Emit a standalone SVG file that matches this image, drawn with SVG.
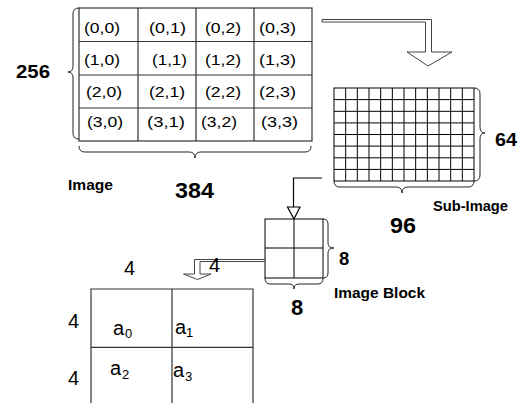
<svg xmlns="http://www.w3.org/2000/svg" width="518" height="403" viewBox="0 0 518 403">
<defs>
<style>
.grid{fill:none;stroke:#333;stroke-width:1.2}
.fine{fill:none;stroke:#000;stroke-width:1}
.brace{fill:none;stroke:#222;stroke-width:1}
.conn{fill:none;stroke:#000;stroke-width:1.2}
.block{fill:#fff;stroke:#444;stroke-width:1}
.cell{font-family:"Liberation Sans",Arial,sans-serif;font-size:15.5px;fill:#000}
.num{font-family:"Liberation Sans",Arial,sans-serif;font-weight:bold;fill:#000}
.lbl{font-family:"Liberation Sans",Arial,sans-serif;font-weight:bold;font-size:14px;fill:#000}
.reg{font-family:"Liberation Sans",Arial,sans-serif;font-size:20px;fill:#000}
.sub{font-family:"Liberation Sans",Arial,sans-serif;font-size:13px;fill:#000}
</style>
</defs>
<rect width="518" height="403" fill="#fff"/>

<g id="image">
<rect class="grid" x="79" y="8" width="233" height="133"/>
<path class="grid" d="M138,8V141M196,8V141M254,8V141M79,41.5H312M79,75H312M79,108H312"/>
<g class="cell">
<text x="84" y="33" textLength="36" lengthAdjust="spacingAndGlyphs">(0,0)</text>
<text x="149" y="33" textLength="37" lengthAdjust="spacingAndGlyphs">(0,1)</text>
<text x="205" y="33" textLength="36" lengthAdjust="spacingAndGlyphs">(0,2)</text>
<text x="259" y="33" textLength="37" lengthAdjust="spacingAndGlyphs">(0,3)</text>
<text x="84" y="65" textLength="36" lengthAdjust="spacingAndGlyphs">(1,0)</text>
<text x="152" y="65" textLength="35" lengthAdjust="spacingAndGlyphs">(1,1)</text>
<text x="205" y="65" textLength="36" lengthAdjust="spacingAndGlyphs">(1,2)</text>
<text x="259" y="65" textLength="37" lengthAdjust="spacingAndGlyphs">(1,3)</text>
<text x="86" y="97" textLength="36" lengthAdjust="spacingAndGlyphs">(2,0)</text>
<text x="149" y="97" textLength="36" lengthAdjust="spacingAndGlyphs">(2,1)</text>
<text x="205" y="97" textLength="36" lengthAdjust="spacingAndGlyphs">(2,2)</text>
<text x="259" y="97" textLength="37" lengthAdjust="spacingAndGlyphs">(2,3)</text>
<text x="87" y="127" textLength="36" lengthAdjust="spacingAndGlyphs">(3,0)</text>
<text x="147" y="127" textLength="38" lengthAdjust="spacingAndGlyphs">(3,1)</text>
<text x="201" y="127" textLength="36" lengthAdjust="spacingAndGlyphs">(3,2)</text>
<text x="261" y="127" textLength="37" lengthAdjust="spacingAndGlyphs">(3,3)</text>
</g>
<path class="brace" d="M79,8Q73,8 73,14V66Q73,72 68,72Q73,72 73,78V133Q73,139 79,139"/>
<path class="brace" d="M79,146Q79,152 85,152H189Q195,152 195,158Q195,152 201,152H305Q311,152 311,146"/>
<text class="num" x="16" y="78" font-size="19" textLength="34" lengthAdjust="spacingAndGlyphs">256</text>
<text class="num" x="175" y="198" font-size="22" textLength="39" lengthAdjust="spacingAndGlyphs">384</text>
<text class="lbl" x="68" y="190" textLength="45" lengthAdjust="spacingAndGlyphs">Image</text>
</g>

<g id="sub-image">
<rect class="fine" x="334" y="88" width="140" height="93"/>
<path class="fine" d="M345.67,88V181M357.33,88V181M369,88V181M380.67,88V181M392.33,88V181M404,88V181M415.67,88V181M427.33,88V181M439,88V181M450.67,88V181M462.33,88V181M334,99.6H474M334,111.3H474M334,122.9H474M334,134.5H474M334,146.1H474M334,157.8H474M334,169.4H474"/>
<path class="brace" d="M474,88Q480,88 480,94V127Q480,133 485,133Q480,133 480,139V175Q480,181 474,181"/>
<path class="brace" d="M334,181Q334,187 340,187H396Q402,187 402,193Q402,187 408,187H468Q474,187 474,181"/>
<text class="num" x="495" y="146" font-size="18" textLength="22" lengthAdjust="spacingAndGlyphs">64</text>
<text class="lbl" x="433" y="211" textLength="75" lengthAdjust="spacingAndGlyphs">Sub-Image</text>
<text class="num" x="390" y="233" font-size="22" textLength="26" lengthAdjust="spacingAndGlyphs">96</text>
</g>

<g id="image-block">
<rect class="fine" x="265" y="219" width="58" height="59"/>
<path class="fine" d="M294,219V278M265,248H323"/>
<path class="brace" d="M323,219Q328,219 328,224V243Q328,248 334,248Q328,248 328,253V273Q328,278 323,278"/>
<path class="brace" d="M265,278Q265,284 270,284H289Q294,284 294,289Q294,284 299,284H318Q323,284 323,278"/>
<text class="num" x="339" y="265" font-size="18.5">8</text>
<text class="num" x="291" y="315" font-size="22">8</text>
<text class="lbl" x="334" y="298" textLength="91" lengthAdjust="spacingAndGlyphs">Image Block</text>
</g>

<g id="pixel-block">
<path class="grid" d="M91,403V289H253V403M172,289V403M91,347.3H253" stroke="#555"/>
<text class="reg" x="124" y="275">4</text>
<text class="reg" x="68" y="328">4</text>
<text class="reg" x="68" y="385">4</text>
<text class="reg" x="113" y="335">a<tspan class="sub" x="125" y="338">0</tspan></text>
<text class="reg" x="175" y="334">a<tspan class="sub" x="186" y="337">1</tspan></text>
<text class="reg" x="110" y="375">a<tspan class="sub" x="122" y="379">2</tspan></text>
<text class="reg" x="173" y="377">a<tspan class="sub" x="185" y="381">3</tspan></text>
</g>

<g id="connectors">
<path class="block" d="M322,19.5H431.5V52H452L428,66L407,52H425.5V22H322Z"/>
<path class="conn" d="M322,178H293.5V207"/>
<path class="conn" fill="#fff" d="M287.5,207H300L294,219Z"/>
<path class="block" d="M265,259.5H194.5V274H183.5L197.5,279.5L211,274H200V261.5H265Z"/>
<text class="reg" x="209" y="272">4</text>
</g>
</svg>
